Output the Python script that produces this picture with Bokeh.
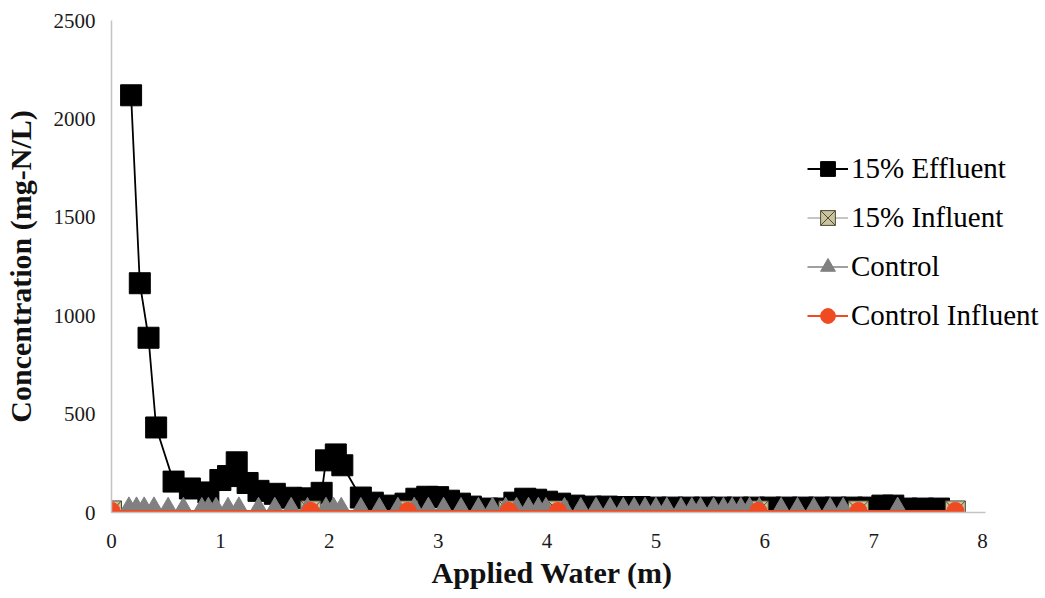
from bokeh.plotting import figure
from bokeh.models import Range1d, Legend, LegendItem, FixedTicker, Title
from bokeh.embed import file_html
from bokeh.resources import INLINE

# Applied water (m) and nitrogen concentration (mg-N/L)
eff_x = [0.18, 0.26, 0.34, 0.41, 0.57, 0.72, 0.89, 1.00, 1.07, 1.15,
         1.25, 1.35, 1.50, 1.65, 1.80, 1.93, 1.97, 2.06, 2.12, 2.29,
         2.40, 2.55, 2.70, 2.80, 2.90, 3.00, 3.10, 3.20, 3.30, 3.45,
         3.60, 3.70, 3.80, 3.90, 4.00, 4.12, 4.25, 4.40, 4.55, 4.70,
         4.85, 5.00, 5.15, 5.30, 5.45, 5.60, 5.75, 5.90, 6.05, 6.20,
         6.35, 6.50, 6.65, 6.80, 6.95, 7.08, 7.18, 7.30, 7.45, 7.60]
eff_y = [2120, 1165, 888, 432, 157, 122, 102, 165, 185, 255,
         150, 110, 95, 75, 72, 100, 265, 295, 240, 76,
         50, 35, 45, 70, 80, 78, 60, 45, 30, 20,
         20, 50, 70, 65, 55, 45, 35, 30, 30, 28,
         28, 25, 25, 25, 25, 25, 25, 25, 25, 25,
         25, 25, 25, 25, 25, 35, 35, 20, 20, 20]

ctrl_x = [0.16, 0.23, 0.30, 0.39, 0.52, 0.66, 0.83, 0.89,
          0.96, 1.07, 1.17, 1.35, 1.50, 1.65, 1.80, 1.97,
          2.04, 2.11, 2.29, 2.46, 2.63, 2.78, 2.91, 3.05,
          3.21, 3.37, 3.50, 3.62, 3.72, 3.83, 3.92, 3.99,
          4.16, 4.31, 4.45, 4.58, 4.70, 4.80, 4.90, 5.00,
          5.10, 5.23, 5.33, 5.41, 5.53, 5.62, 5.70, 5.78,
          5.86, 5.95, 6.15, 6.30, 6.45, 6.60, 6.72, 7.22]
ctrl_y = [6, 6, 6, 6, 4, 4, 3, 4,
          4, 4, 6, 4, 4, 4, 3, 4,
          4, 4, 3, 3, 4, 4, 4, 4,
          3, 3, 4, 4, 4, 4, 4, 3,
          3, 3, 4, 4, 4, 4, 4, 4,
          4, 3, 3, 4, 4, 4, 4, 4,
          4, 3, 3, 3, 3, 3, 3, 5]

inf_x = [0.0, 1.83, 2.72, 3.65, 4.10, 5.94, 6.86, 7.75]
inf15_y = [8, 8, 8, 8, 8, 8, 8, 8]
ctrl_inf_y = [8, 8, 8, 8, 8, 8, 8, 8]

x_ticks = [0, 1, 2, 3, 4, 5, 6, 7, 8]
y_ticks = [0, 500, 1000, 1500, 2000, 2500]

FONT = "Liberation Serif"

# The frame runs to the right edge so the legend is not clipped;
# the x axis line itself stops just past 8.
p = figure(width=1045, height=598, output_backend="svg", toolbar_location=None,
           x_range=Range1d(0, 8.578), y_range=Range1d(0, 2500),
           min_border_left=110, min_border_right=0,
           min_border_top=20, min_border_bottom=86)

p.xgrid.visible = False
p.ygrid.visible = False
p.outline_line_color = None
p.background_fill_color = "white"
p.border_fill_color = "white"

for ax in (p.xaxis[0], p.yaxis[0]):
    ax.axis_line_color = "#C4C4C4"
    ax.axis_line_width = 1.5
    ax.major_tick_line_color = None
    ax.minor_tick_line_color = None
    ax.major_label_text_font = FONT
    ax.major_label_text_font_size = "21px"
    ax.major_label_text_color = "#1a1a1a"
    ax.axis_label_text_font = FONT
    ax.axis_label_text_font_size = "30px"
    ax.axis_label_text_font_style = "bold"
    ax.axis_label_text_color = "#111111"

p.xaxis[0].ticker = FixedTicker(ticks=x_ticks)
p.yaxis[0].ticker = FixedTicker(ticks=y_ticks)
p.xaxis[0].bounds = (0, 8.03)
p.yaxis[0].axis_label = "Concentration (mg-N/L)"
p.xaxis[0].major_label_standoff = 15
p.yaxis[0].major_label_standoff = 10
p.yaxis[0].axis_label_standoff = 14

# x axis title, positioned under the 0-8 span of the axis
x_title = Title(text="Applied Water (m)", align="left", offset=320,
                text_font=FONT, text_font_size="30px", text_font_style="bold",
                text_color="#111111", standoff=6, vertical_align="bottom")
p.add_layout(x_title, "below")

# 15% Effluent
eff_line = p.line(eff_x, eff_y, line_color="black", line_width=1.8)
eff_pts = p.scatter(eff_x, eff_y, marker="square", size=21,
                    fill_color="black", line_color="black")

# 15% Influent
inf_line = p.line(inf_x, inf15_y, line_color="#8C8C8C", line_width=1.2)
inf_pts = p.scatter(inf_x, inf15_y, marker="square_x", size=20,
                    fill_color="#C9C29F", line_color="#4E4A33", line_width=1)

# Control
ctrl_line = p.line(ctrl_x, ctrl_y, line_color="#808080", line_width=1.5)
ctrl_pts = p.scatter(ctrl_x, ctrl_y, marker="triangle", size=25,
                     fill_color="#808080", line_color="#808080")

# Control Influent
ci_line = p.line(inf_x, ctrl_inf_y, line_color="#F04A23", line_width=2)
ci_pts = p.scatter(inf_x, ctrl_inf_y, marker="circle", size=17,
                   fill_color="#F04A23", line_color="#F04A23")

legend = Legend(items=[
    LegendItem(label="15% Effluent", renderers=[eff_line, eff_pts]),
    LegendItem(label="15% Influent", renderers=[inf_line, inf_pts]),
    LegendItem(label="Control", renderers=[ctrl_line, ctrl_pts]),
    LegendItem(label="Control Influent", renderers=[ci_line, ci_pts]),
], location=(696, 178))
legend.label_text_font = FONT
legend.label_text_font_size = "29px"
legend.label_text_color = "black"
legend.glyph_width = 41
legend.glyph_height = 37
legend.label_height = 37
legend.label_standoff = 3
legend.spacing = 12
legend.padding = 0
legend.margin = 0
legend.border_line_color = None
legend.background_fill_alpha = 0
p.add_layout(legend, "center")

open("out.html", "w").write(file_html(p, INLINE))
